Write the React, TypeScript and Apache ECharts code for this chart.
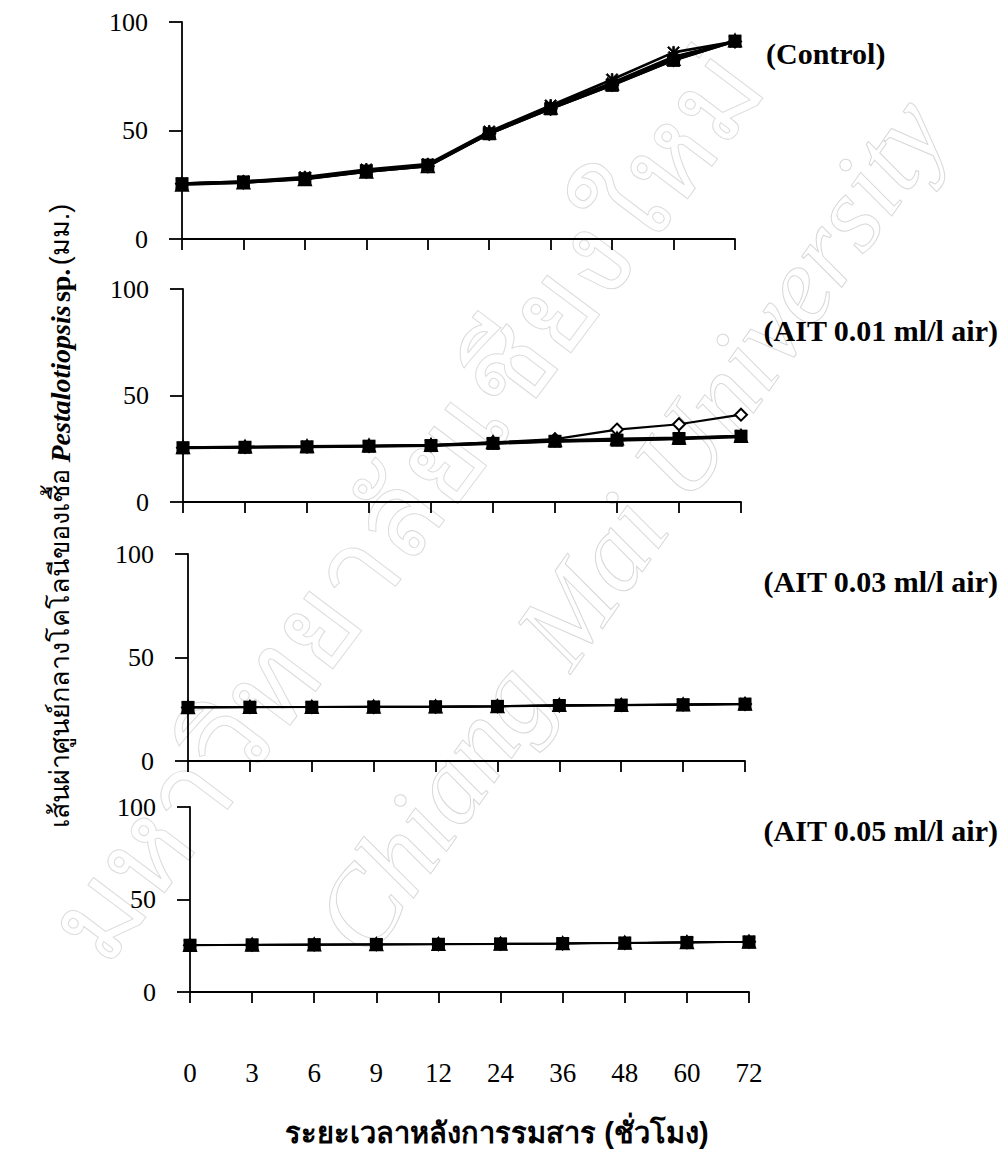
import React, { useEffect, useRef } from "react";
import * as echarts from "echarts";

// Categories: hours after fumigation
const categories = ["0", "3", "6", "9", "12", "24", "36", "48", "60", "72"];

// Panel 1: Control
const ctrlDiamond = [25.5, 26.0, 27.8, 31.0, 33.5, 48.5, 60.0, 71.0, 82.5, 91.0];
const ctrlTriangle = [25.0, 26.0, 27.5, 31.0, 33.5, 49.0, 60.5, 71.5, 83.0, 91.5];
const ctrlCross = [25.5, 26.5, 28.0, 31.5, 34.0, 49.0, 61.0, 72.0, 84.0, 91.0];
const ctrlAsterisk = [25.5, 26.5, 28.5, 32.0, 34.5, 49.5, 61.5, 73.5, 86.0, 91.0];
const ctrlSquare = [25.5, 26.3, 27.8, 31.3, 34.0, 48.5, 60.0, 70.8, 82.3, 91.2];

// Panel 2: AIT 0.01 ml/l air
const a1Diamond = [25.5, 25.8, 26.0, 26.3, 26.6, 28.0, 29.5, 34.0, 36.5, 41.0];
const a1Triangle = [25.7, 26.0, 26.2, 26.5, 26.8, 28.0, 29.0, 29.8, 30.2, 31.0];
const a1Cross = [25.3, 25.5, 25.8, 26.0, 26.3, 27.3, 28.3, 28.8, 29.5, 30.5];
const a1Asterisk = [25.5, 25.8, 26.0, 26.3, 26.6, 27.6, 28.6, 29.2, 30.0, 31.0];
const a1Square = [25.5, 25.7, 25.9, 26.2, 26.5, 27.5, 28.5, 29.0, 29.8, 30.9];

// Panel 3: AIT 0.03 ml/l air
const a3Diamond = [25.9, 26.0, 26.0, 26.1, 26.2, 26.4, 26.8, 27.0, 27.2, 27.5];
const a3Triangle = [26.0, 26.1, 26.1, 26.2, 26.3, 26.5, 27.0, 27.1, 27.3, 27.6];
const a3Cross = [25.8, 25.9, 26.0, 26.0, 26.1, 26.3, 26.7, 26.9, 27.1, 27.4];
const a3Asterisk = [26.0, 26.0, 26.1, 26.2, 26.3, 26.5, 26.9, 27.1, 27.3, 27.6];
const a3Square = [25.9, 26.0, 26.0, 26.1, 26.2, 26.4, 26.8, 27.0, 27.2, 27.5];

// Panel 4: AIT 0.05 ml/l air
const a5Diamond = [25.3, 25.5, 25.6, 25.7, 25.8, 26.0, 26.2, 26.5, 26.8, 27.1];
const a5Triangle = [25.4, 25.6, 25.7, 25.8, 25.9, 26.1, 26.3, 26.6, 26.9, 27.2];
const a5Cross = [25.2, 25.4, 25.5, 25.6, 25.7, 25.9, 26.1, 26.4, 26.7, 27.0];
const a5Asterisk = [25.3, 25.5, 25.7, 25.8, 25.9, 26.1, 26.3, 26.6, 26.9, 27.2];
const a5Square = [25.3, 25.5, 25.6, 25.7, 25.8, 26.0, 26.2, 26.5, 26.8, 27.1];

const panelLabels = ["(Control)", "(AIT 0.01 ml/l air)", "(AIT 0.03 ml/l air)", "(AIT 0.05 ml/l air)"];
const yTicks = [0, 50, 100];

const panels = [
  [ctrlDiamond, ctrlTriangle, ctrlCross, ctrlAsterisk, ctrlSquare],
  [a1Diamond, a1Triangle, a1Cross, a1Asterisk, a1Square],
  [a3Diamond, a3Triangle, a3Cross, a3Asterisk, a3Square],
  [a5Diamond, a5Triangle, a5Cross, a5Asterisk, a5Square],
];

const CROSS = "path://M1,0L5,4L9,0L10,1L6,5L10,9L9,10L5,6L1,10L0,9L4,5L0,1Z";
const ASTER =
  "path://M1,0L5,4L9,0L10,1L6,5L10,9L9,10L5,6L1,10L0,9L4,5L0,1Z M4.3,0L5.7,0L5.7,10L4.3,10Z";

const markerDefs = [
  { name: "diamond", symbol: "emptyDiamond", size: 12, bw: 1.5 },
  { name: "triangle", symbol: "emptyTriangle", size: 12, bw: 1.5 },
  { name: "cross", symbol: CROSS, size: 11, bw: 0.8 },
  { name: "asterisk", symbol: ASTER, size: 12, bw: 0.8 },
  { name: "square", symbol: "rect", size: 13, bw: 0 },
];

const grids = [
  { left: 182, top: 22, width: 553, height: 217 },
  { left: 183, top: 289, width: 558, height: 213 },
  { left: 188, top: 554, width: 557, height: 207 },
  { left: 190, top: 807, width: 559, height: 185 },
];
const labelY = [53, 330, 581, 830];
const lineW = [2.6, 2.2, 1.8, 1.6];

const SERIF = "Liberation Serif";
const THAI = "sans-serif";

export default function App() {
  const ref = useRef<HTMLDivElement>(null);

  useEffect(() => {
    document.body.style.margin = "0";
    if (!ref.current) return;
    const chart = echarts.init(ref.current, null, { renderer: "svg" });

    const axisLineStyle = { color: "#000", width: 1.8 };

    const xAxis = grids.map((_, i) => ({
      gridIndex: i,
      type: "category",
      data: categories,
      boundaryGap: false,
      axisLine: { show: true, lineStyle: axisLineStyle },
      axisTick: { show: true, length: 11, interval: 0, lineStyle: axisLineStyle },
      axisLabel: {
        show: i === 3,
        interval: 0,
        margin: 67,
        fontSize: 27,
        fontFamily: SERIF,
        color: "#000",
      },
      splitLine: { show: false },
    }));

    const yAxis = grids.map((_, i) => ({
      gridIndex: i,
      type: "value",
      min: yTicks[0],
      max: yTicks[2],
      interval: yTicks[1],
      axisLine: { show: true, lineStyle: axisLineStyle },
      axisTick: { show: true, length: 13, lineStyle: axisLineStyle },
      axisLabel: { margin: 34, fontSize: 26, fontFamily: SERIF, color: "#000" },
      splitLine: { show: false },
    }));

    const series: any[] = [];
    panels.forEach((sets, pi) => {
      sets.forEach((data, si) => {
        const m = markerDefs[si];
        series.push({
          name: `${panelLabels[pi]} ${m.name}`,
          type: "line",
          xAxisIndex: pi,
          yAxisIndex: pi,
          data,
          symbol: m.symbol,
          symbolSize: m.size,
          showAllSymbol: true,
          lineStyle: { color: "#000", width: lineW[pi] },
          itemStyle: { color: "#000", borderColor: "#000", borderWidth: m.bw },
          z: 2 + si,
        });
      });
    });

    const graphic: any[] = [
      // faint watermarks
      {
        type: "text",
        x: 405,
        y: 505,
        rotation: (53 * Math.PI) / 180,
        silent: true,
        z: -10,
        style: {
          text: "มหาวิทยาลัยเชียงใหม่",
          fontSize: 118,
          fontFamily: THAI,
          fill: "none",
          stroke: "#dcdcdc",
          lineWidth: 1,
          align: "center",
          verticalAlign: "middle",
        },
      },
      {
        type: "text",
        x: 630,
        y: 525,
        rotation: (55 * Math.PI) / 180,
        silent: true,
        z: -10,
        style: {
          text: "Chiang Mai University",
          fontSize: 110,
          fontFamily: SERIF,
          fontStyle: "italic",
          fill: "none",
          stroke: "#d8d8d8",
          lineWidth: 1,
          align: "center",
          verticalAlign: "middle",
        },
      },
      ...panelLabels.map((t, i) => ({
        type: "text",
        x: i === 0 ? 766 : 998,
        y: labelY[i],
        style: {
          text: t,
          fontSize: 30,
          fontWeight: "bold",
          fontFamily: SERIF,
          fill: "#000",
          align: i === 0 ? "left" : "right",
          verticalAlign: "middle",
        },
      })),
      {
        type: "text",
        x: 497,
        y: 1133,
        style: {
          text: "ระยะเวลาหลังการรมสาร (ชั่วโมง)",
          fontSize: 29,
          fontWeight: "bold",
          fontFamily: THAI,
          fill: "#000",
          align: "center",
          verticalAlign: "middle",
        },
      },
      {
        type: "text",
        x: 60,
        y: 516,
        rotation: Math.PI / 2,
        style: {
          text: "{a|เส้นผ่าศูนย์กลางโคโลนีของเชื้อ}  {b|Pestalotiopsis} {c|sp.} {a|(มม.)}",
          align: "center",
          verticalAlign: "middle",
          fill: "#000",
          rich: {
            a: { fontSize: 27, fontFamily: THAI, fill: "#000" },
            b: { fontSize: 28, fontFamily: SERIF, fontStyle: "italic", fontWeight: "bold", fill: "#000" },
            c: { fontSize: 28, fontFamily: SERIF, fontWeight: "bold", fill: "#000" },
          },
        },
      },
    ];

    chart.setOption({
      animation: false,
      backgroundColor: "#fff",
      grid: grids,
      xAxis,
      yAxis,
      series,
      graphic,
    });

    return () => chart.dispose();
  }, []);

  return <div ref={ref} style={{ width: 1000, height: 1167 }} />;
}
